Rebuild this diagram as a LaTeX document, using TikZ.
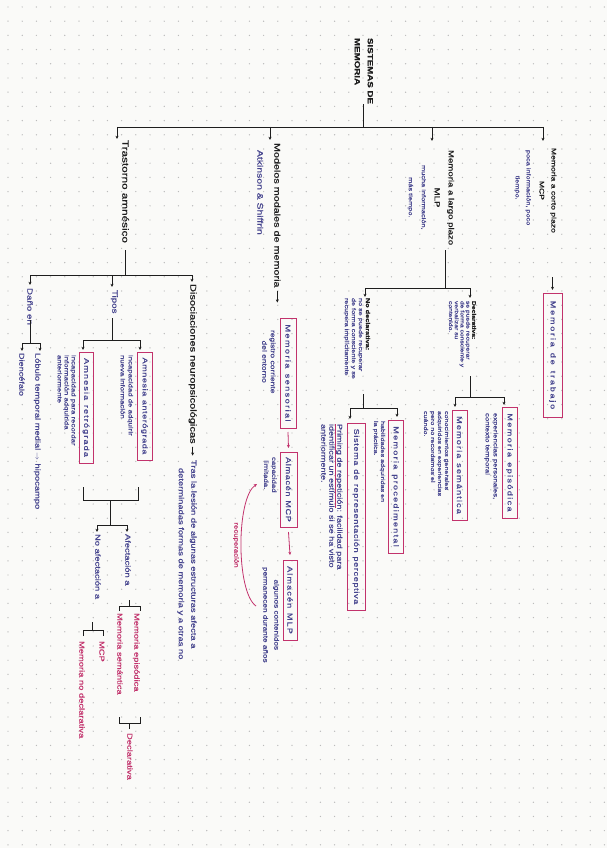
\documentclass[tikz,border=0pt]{standalone}
\usepackage{fontspec}
\setmainfont{Liberation Sans}[FakeStretch=1.3, FakeBold=0.7]
\usetikzlibrary{arrows.meta}
\definecolor{ink}{HTML}{1E1E1E}
\definecolor{blueink}{HTML}{45448E}
\definecolor{pinkink}{HTML}{C2326C}
\definecolor{paper}{HTML}{FAFAF8}
\definecolor{dotc}{HTML}{BBBBBB}
\newcommand\fsz[2]{\fontsize{#1}{#2}\selectfont}
\ExplSyntaxOn
\NewDocumentCommand\spreadtxt{mm}{\makebox[#1][s]{\tl_map_inline:nn{#2}{\hfil ##1}\hfil}}
\ExplSyntaxOff
\begin{document}
\begin{tikzpicture}[x=1pt,y=-1pt,
 r/.style={rotate=-90, inner sep=0pt, outer sep=0pt},
 blk/.style={r, text=ink},
 blu/.style={r, text=blueink},
 pnk/.style={r, text=pinkink},
 pbox/.style={r, draw=pinkink, line width=0.8pt, text=blueink, inner sep=0pt, font=\fsz{7}{7}},
 conn/.style={draw=ink, line width=0.85pt},
 arr/.style={conn, -{Stealth[length=3.2pt,width=3pt]}},
 pconn/.style={draw=pinkink, line width=0.8pt},
 parr/.style={pconn, -{Stealth[length=3.2pt,width=3pt]}},
]
\useasboundingbox (0,0) rectangle (607,848);
\fill[paper] (0,0) rectangle (607,848);
\foreach \i in {0,...,42}{\foreach \j in {0,...,59}{\fill[dotc] (8+\i*14.2,7+\j*14.2) circle (0.7);}}

% root
\node[blk, font=\bfseries\fsz{7.5}{13}, align=left, anchor=north west] (root) at (373,38) {SISTEMAS DE\\MEMORIA};
\coordinate (barL) at (117,127);
\coordinate (barR) at (543,127);
\draw[conn] (barL) -- (barR);
\draw[conn] (root.east) -- (root.east |- barR);

% MCP
\draw[arr] (barR) -- ++(0,14);
\node[blk, font=\fsz{6.6}{12}, align=center, anchor=north west] (mcp) at (556.3,148) {Memoria a corto plazo\\MCP};
\node[blu, font=\fsz{5.6}{11}, align=center, anchor=north west] (mcpd) at (530.8,150) {poca información, poco\\tiempo.};
\node[pbox, minimum width=124, minimum height=19, anchor=west] (wm) at (552.5,293) {\spreadtxt{112pt}{Memoria~de~trabajo}};
\draw[arr] ([yshift=16pt]wm.west) -- ([yshift=3pt]wm.west);

% MLP
\coordinate (mlpbar) at (432,127);
\draw[arr] (mlpbar) -- ++(0,14);
\node[blk, font=\fsz{7.4}{14}, align=center, anchor=north west] (mlp) at (454,150) {Memoria a largo plazo\\MLP};
\node[blu, font=\fsz{5.7}{13}, align=center, anchor=north west] (mlpd) at (426,165) {mucha información,\\más tiempo.};
\coordinate (mlpstem) at (445,250);
\coordinate (mlpj) at (445,288);
\coordinate (decJ) at (470,288);
\coordinate (ndecJ) at (365,288);
\draw[conn] (mlpstem) -- (mlpj);
\draw[conn] (ndecJ) -- (decJ);
\draw[arr] (decJ) -- ++(0,10);
\draw[arr] (ndecJ) -- ++(0,9);

% Declarativa
\node[blu, font=\fsz{5.2}{5.8}, align=left, anchor=north west] (dec) at (476,301) {{\color{ink}\bfseries Declarativa:}\\se puede recuperar\\de forma consciente y\\verbalizar su\\contenido.};
\coordinate (decS) at (470,376);
\coordinate (decB) at (470,397);
\coordinate (epiJ) at (504,397);
\coordinate (semJ) at (455,397);
\draw[conn] (decS) -- (decB);
\draw[conn] (semJ) -- (epiJ);
\draw[arr] (epiJ) -- ++(0,8);
\draw[arr] (semJ) -- ++(0,10);
\node[pbox, minimum width=111, minimum height=15, anchor=west] (epi) at (509.5,407) {\spreadtxt{101pt}{Memoria~episódica}};
\node[blu, font=\fsz{6}{8}, align=left, anchor=north west] (epid) at (498,413) {experiencias personales,\\contexto temporal};
\node[pbox, minimum width=110, minimum height=15, anchor=west] (sem) at (459.5,410) {\spreadtxt{100pt}{Memoria~semántica}};
\node[blu, font=\fsz{5.5}{7}, align=left, anchor=north west] (semd) at (449,411) {conocimientos generales\\adquiridos en experiencias\\pero no recordamos el\\cuándo.};

% No declarativa
\node[blu, font=\fsz{5.6}{7}, align=left, anchor=north west] (ndec) at (370,298) {{\color{ink}\bfseries No declarativa:}\\no se puede recuperar\\de forma consciente y se\\recupera implícitamente};
\coordinate (ndecS) at (363,394);
\coordinate (ndecB) at (363,408);
\coordinate (procJ) at (397,408);
\coordinate (prsJ) at (350,408);
\draw[conn] (ndecS) -- (ndecB);
\draw[conn] (prsJ) -- (procJ);
\draw[arr] (procJ) -- ++(0,9);
\draw[arr] (prsJ) -- ++(0,11);
\node[pbox, minimum width=133, minimum height=15, anchor=west] (proc) at (395.5,420) {\spreadtxt{123pt}{Memoria~procedimental}};
\node[blu, font=\fsz{5.5}{7}, align=left, anchor=north west] (procd) at (385,421) {habilidades adquiridas en\\la práctica.};
\node[pbox, minimum width=187, minimum height=18, anchor=west] (prs) at (356,423) {\spreadtxt{177pt}{Sistema~de~representación~perceptiva}};
\node[blu, font=\fsz{7}{8}, align=left, anchor=north west] (prsd) at (342.5,424) {Priming de repetición: facilidad para\\identificar un estímulo si se ha visto\\anteriormente.};
\draw[pconn] (335.5,424) -- (335.5,508);

% Modelos modales
\coordinate (modbar) at (270,127);
\draw[arr] (modbar) -- ++(0,13);
\node[blk, font=\fsz{8.3}{9}, anchor=mid west] (mod) at (277,143) {Modelos modales de memoria};
\draw[arr] ([yshift=-3pt]mod.east) -- ++(0,12);
\node[blu, font=\fsz{8}{9}, anchor=mid west] (atk) at (260,150) {Atkinson \& Shiffrin};
\node[pbox, minimum width=110, minimum height=16, anchor=west] (sens) at (288,318) {\spreadtxt{100pt}{Memoria~sensorial}};
\node[blu, font=\fsz{6.5}{8.5}, align=center, anchor=north west] (sensd) at (275.5,330) {registro corriente\\del entorno};
\node[pbox, minimum width=75, minimum height=17, anchor=west] (amcp) at (288.5,452) {\spreadtxt{66pt}{Almacén~MCP}};
\draw[parr] ([yshift=-4pt]sens.east) -- ([yshift=4pt]amcp.west);
\node[blu, font=\fsz{6}{8}, align=center, anchor=north west] (amcpd) at (276.5,457) {capacidad\\limitada.};
\node[pbox, minimum width=80, minimum height=14, anchor=west] (amlp) at (290,560) {\spreadtxt{70pt}{Almacén~MLP}};
\draw[parr] ([yshift=-5pt]amcp.east) -- ([yshift=5pt]amlp.west);
\node[blu, font=\fsz{6.3}{11}, align=center, anchor=north west] (amlpd) at (279,567) {algunos contenidos\\permanecen durante años};
\draw[parr] (256,606) .. controls (236,592) and (236,498) .. (257,484);
\node[pnk, font=\fsz{6}{7}, anchor=center] (rec) at (236,545) {recuperación};

% Trastorno amnesico
\draw[arr] (barL) -- ++(0,12);
\node[blk, font=\fsz{9}{10}, anchor=mid west] (tras) at (125,140) {Trastorno amnésico};
\coordinate (trasS) at (125,250);
\coordinate (trasB) at (125,275);
\coordinate (danJ) at (30,275);
\coordinate (tipJ) at (112,275);
\coordinate (disJ) at (192,275);
\draw[conn] (trasS) -- (trasB);
\draw[conn] (danJ) -- (disJ);
\draw[arr] (danJ) -- ++(0,10);
\draw[arr] (tipJ) -- ++(0,12);
\draw[arr] (disJ) -- ++(0,7);

% Dano en
\node[blu, font=\fsz{7.5}{8}, anchor=mid west] (dan) at (30,288) {Daño en};
\coordinate (danS) at (30,320);
\coordinate (danB) at (30,343);
\coordinate (lobJ) at (40,343);
\coordinate (dieJ) at (22,343);
\draw[conn] (danS) -- (danB);
\draw[conn] (dieJ) -- (lobJ);
\draw[arr] (lobJ) -- ++(0,8);
\draw[arr] (dieJ) -- ++(0,8);
\node[blu, font=\fsz{7.2}{8}, anchor=mid west] (lob) at (38,353) {Lóbulo temporal medial $\rightarrow$ hipocampo};
\node[blu, font=\fsz{7}{8}, anchor=mid west] (die) at (22,353) {Diencéfalo};

% Tipos
\node[blu, font=\fsz{7.5}{8}, anchor=mid west] (tip) at (115,290) {Tipos};
\coordinate (tipS) at (112,318);
\coordinate (tipB) at (112,340);
\coordinate (antJ) at (140,340);
\coordinate (retJ) at (83,340);
\draw[conn] (tipS) -- (tipB);
\draw[conn] (retJ) -- (antJ);
\draw[arr] (antJ) -- ++(0,10);
\draw[arr] (retJ) -- ++(0,10);
\node[pbox, minimum width=108, minimum height=15, anchor=west] (ant) at (144.5,352) {\spreadtxt{98pt}{Amnesia~anterógrada}};
\node[blu, font=\fsz{6}{8}, align=left, anchor=north west] (antd) at (133,355) {incapacidad de adquirir\\nueva información};
\node[pbox, minimum width=111, minimum height=14, anchor=west] (ret) at (86,352) {\spreadtxt{101pt}{Amnesia~retrógrada}};
\node[blu, font=\fsz{6}{7}, align=left, anchor=north west] (retd) at (76,355) {incapacidad para recordar\\información adquirida\\anteriormente};

% lower bracket
\coordinate (retE) at (83,487);
\coordinate (antE) at (138,487);
\coordinate (lbS) at (110,500);
\coordinate (lbB) at (110,525);
\coordinate (noJ) at (97,525);
\coordinate (afJ) at (127,525);
\draw[conn] (retE) -- (83,500) -- (138,500) -- (antE);
\draw[conn] (lbS) -- (lbB);
\draw[conn] (noJ) -- (afJ);
\draw[arr] (noJ) -- ++(0,7);
\draw[arr] (afJ) -- ++(0,7);
\node[blu, font=\fsz{7.2}{8}, anchor=mid west] (af) at (128,534) {Afectación a};
\node[blu, font=\fsz{7.2}{8}, anchor=mid west] (noaf) at (98,534) {No afectación a};
\draw[conn] (129,600) -- (129,606);
\draw[conn] (119,611) -- (119,606) -- (140,606) -- (140,611);
\node[pnk, font=\fsz{7.2}{8}, anchor=mid west] (epi2) at (137,613) {Memoria episódica};
\node[pnk, font=\fsz{7.2}{8}, anchor=mid west] (sem2) at (120,613) {Memoria semántica};
\draw[conn] (119,717) -- (119,723) -- (140,723) -- (140,717);
\draw[conn] (129.5,723) -- (129.5,729);
\node[pnk, font=\fsz{7.2}{8}, anchor=mid west] (decl2) at (130,733) {Declarativa};
\draw[conn] (92,622) -- (92,630);
\draw[conn] (83,636) -- (83,630) -- (103,630) -- (103,636);
\node[pnk, font=\fsz{7.2}{8}, anchor=mid west] (mcp2) at (102,641) {MCP};
\node[pnk, font=\fsz{7.2}{8}, anchor=mid west] (mnd) at (82,641) {Memoria no declarativa};

% Disociaciones
\node[blk, font=\fsz{8.5}{9}, anchor=mid west] (dis) at (193,284) {Disociaciones neuropsicológicas};
\draw[arr] ([yshift=-3pt]dis.east) -- ++(0,9);
\node[blu, font=\fsz{7.2}{12.5}, align=left, anchor=north west] (disd) at (196.6,460) {Tras la lesión de algunas estructuras afecta a\\\hspace{8pt}determinadas formas de memoria y a otras no};
\end{tikzpicture}
\end{document}
